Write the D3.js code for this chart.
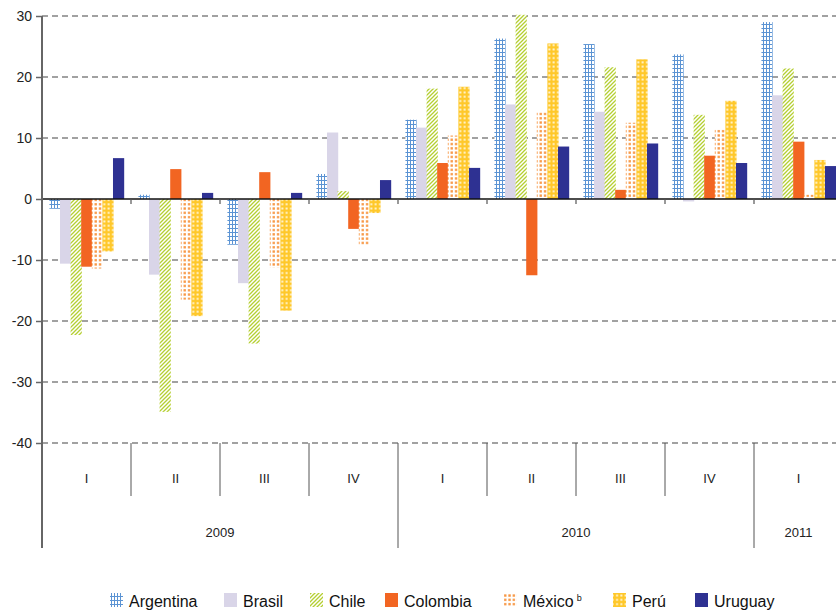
<!DOCTYPE html>
<html>
<head>
<meta charset="utf-8">
<script src="https://cdn.jsdelivr.net/npm/d3@7"></script>
<style>
  body { margin: 0; background: #fff; }
  svg { display: block; font-family: 'Liberation Sans', Arial, sans-serif; }
</style>
</head>
<body>
<svg id="chart" width="836" height="614"></svg>
<script>
// data
const quarters = ['I', 'II', 'III', 'IV', 'I', 'II', 'III', 'IV', 'I'];
const yearLabels = ['2009', '2010', '2011'];
const yearSpans = [4, 4, 1];
const seriesNames = ['Argentina', 'Brasil', 'Chile', 'Colombia', 'México', 'Perú', 'Uruguay'];
const yTicks = [30, 20, 10, 0, -10, -20, -30, -40];

const argentina = [-1.6, 0.7, -7.5, 4.1, 13.0, 26.3, 25.4, 23.7, 29.0];
const brasil = [-10.6, -12.4, -13.8, 10.9, 11.7, 15.5, 14.3, -0.4, 17.0];
const chile = [-22.3, -34.9, -23.7, 1.3, 18.1, 30.2, 21.6, 13.8, 21.4];
const colombia = [-11.1, 4.9, 4.4, -4.9, 5.9, -12.5, 1.5, 7.1, 9.4];
const mexico = [-11.4, -16.5, -11.2, -7.6, 10.4, 14.2, 12.5, 11.4, 0.7];
const peru = [-8.6, -19.2, -18.3, -2.3, 18.4, 25.5, 22.9, 16.1, 6.4];
const uruguay = [6.7, 1.0, 1.0, 3.1, 5.1, 8.6, 9.1, 5.9, 5.4];

const seriesValues = [argentina, brasil, chile, colombia, mexico, peru, uruguay];

const svg = d3.select('#chart');
const plotLeft = 42, plotRight = 843, plotTop = 16, plotBottom = 443;
const legendX = [110, 224, 310, 385, 504, 613, 695];

const periods = quarters.map((q, i) => i);
const x0 = d3.scaleBand().domain(periods).range([plotLeft, plotRight]);
const x1 = d3.scaleBand().domain(seriesNames).range([0, x0.bandwidth()]).paddingOuter(0.7);
const y = d3.scaleLinear().domain([-40, 30]).range([plotBottom, plotTop]);

// patterns
const defs = svg.append('defs');
const fills = {};

const pArg = defs.append('pattern').attr('id', 'p-arg').attr('patternUnits', 'userSpaceOnUse')
  .attr('width', 3).attr('height', 4);
pArg.append('rect').attr('width', 3).attr('height', 4).attr('fill', '#fff');
pArg.append('path').attr('d', 'M0.5,0V4M0,0.5H3').attr('stroke', '#5b93d3').attr('stroke-width', 1);
fills['Argentina'] = 'url(#p-arg)';

fills['Brasil'] = '#d9d5e8';

const pChi = defs.append('pattern').attr('id', 'p-chi').attr('patternUnits', 'userSpaceOnUse')
  .attr('width', 4).attr('height', 4);
pChi.append('rect').attr('width', 4).attr('height', 4).attr('fill', '#fff');
pChi.append('path').attr('d', 'M-1,1L1,-1M0,4L4,0M3,5L5,3').attr('stroke', '#b5cf32').attr('stroke-width', 1.3);
fills['Chile'] = 'url(#p-chi)';

fills['Colombia'] = '#f26522';

const pMex = defs.append('pattern').attr('id', 'p-mex').attr('patternUnits', 'userSpaceOnUse')
  .attr('width', 4.3).attr('height', 4.3);
pMex.append('rect').attr('width', 4.3).attr('height', 4.3).attr('fill', '#fff');
pMex.append('rect').attr('x', 1).attr('y', 1).attr('width', 2.3).attr('height', 2.3).attr('fill', '#f7923a');
fills['México'] = 'url(#p-mex)';

const pPer = defs.append('pattern').attr('id', 'p-per').attr('patternUnits', 'userSpaceOnUse')
  .attr('width', 4.3).attr('height', 4.3);
pPer.append('rect').attr('width', 4.3).attr('height', 4.3).attr('fill', '#ffc82a');
pPer.append('rect').attr('x', 1.2).attr('y', 1.2).attr('width', 1.9).attr('height', 1.9).attr('fill', '#fff6d8');
fills['Perú'] = 'url(#p-per)';

fills['Uruguay'] = '#2e3192';

// gridlines
svg.append('g')
  .selectAll('line')
  .data(yTicks.filter(d => d !== 0))
  .join('line')
  .attr('x1', plotLeft).attr('x2', plotRight)
  .attr('y1', d => y(d)).attr('y2', d => y(d))
  .attr('stroke', '#444')
  .attr('stroke-width', 1.2)
  .attr('stroke-dasharray', '6,4');

// bars
const groups = svg.append('g')
  .selectAll('g')
  .data(periods)
  .join('g')
  .attr('transform', d => `translate(${x0(d)},0)`);

groups.selectAll('rect')
  .data(i => seriesNames.map((s, k) => ({ s, v: seriesValues[k][i] })))
  .join('rect')
  .attr('x', d => x1(d.s))
  .attr('width', x1.bandwidth() + 0.6)
  .attr('y', d => y(Math.max(0, d.v)))
  .attr('height', d => Math.abs(y(d.v) - y(0)))
  .attr('fill', d => fills[d.s]);

// zero line and small ticks under it
svg.append('line')
  .attr('x1', plotLeft).attr('x2', plotRight)
  .attr('y1', y(0)).attr('y2', y(0))
  .attr('stroke', '#111').attr('stroke-width', 1.5);

svg.append('g')
  .selectAll('line')
  .data(periods.slice(1))
  .join('line')
  .attr('x1', d => x0(d)).attr('x2', d => x0(d))
  .attr('y1', y(0)).attr('y2', y(0) + 5)
  .attr('stroke', '#555').attr('stroke-width', 1.2);

// y axis
const yAxis = svg.append('g')
  .attr('transform', `translate(${plotLeft},0)`)
  .call(d3.axisLeft(y).tickValues(yTicks).tickSize(6).tickPadding(4).tickFormat(d => String(d)));
yAxis.select('.domain').remove();
yAxis.selectAll('line').attr('stroke', '#666').attr('stroke-width', 1.5);
yAxis.selectAll('text').attr('font-size', 14).attr('fill', '#222')
  .attr('font-family', "'Liberation Sans', Arial, sans-serif");

svg.append('line')
  .attr('x1', plotLeft).attr('x2', plotLeft)
  .attr('y1', plotTop).attr('y2', 548)
  .attr('stroke', '#666').attr('stroke-width', 2);

// category axis: quarters and years
const yearStarts = [];
yearSpans.reduce((acc, s) => { yearStarts.push(acc); return acc + s; }, 0);

svg.append('g')
  .selectAll('line')
  .data(periods.slice(1))
  .join('line')
  .attr('x1', d => x0(d)).attr('x2', d => x0(d))
  .attr('y1', plotBottom).attr('y2', d => yearStarts.includes(d) ? 548 : 496)
  .attr('stroke', '#555').attr('stroke-width', 1);

svg.append('g')
  .selectAll('text')
  .data(quarters)
  .join('text')
  .attr('x', (d, i) => x0(i) + x0.bandwidth() / 2)
  .attr('y', 483)
  .attr('text-anchor', 'middle')
  .attr('font-size', 13)
  .attr('fill', '#222')
  .text(d => d);

svg.append('g')
  .selectAll('text')
  .data(yearLabels)
  .join('text')
  .attr('x', (d, i) => x0(yearStarts[i]) + yearSpans[i] * x0.step() / 2)
  .attr('y', 537)
  .attr('text-anchor', 'middle')
  .attr('font-size', 13)
  .attr('fill', '#222')
  .text(d => d);

// legend
const legend = svg.append('g');
seriesNames.forEach((s, i) => {
  const lx = legendX[i];
  legend.append('rect')
    .attr('x', lx).attr('y', 593)
    .attr('width', 13).attr('height', 14)
    .attr('fill', fills[s]);
  const t = legend.append('text')
    .attr('x', lx + 19).attr('y', 607)
    .attr('font-size', 16)
    .attr('fill', '#111')
    .text(s);
  if (s === 'México') {
    t.append('tspan').attr('dx', 3).attr('dy', -6).attr('font-size', 9).text('b');
  }
});
</script>
</body>
</html>
